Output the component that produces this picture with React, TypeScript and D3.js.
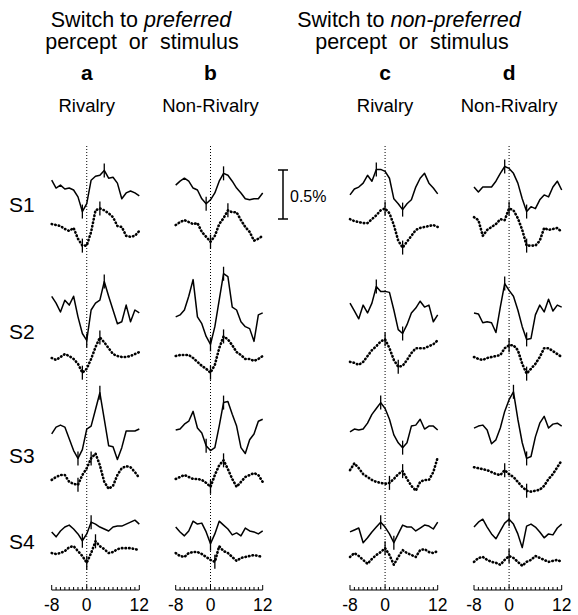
import React from 'react';
import * as d3 from 'd3';

// time (s) relative to the switch
const times = [-8, -7, -6, -5, -4, -3, -2, -1, 0, 1, 2, 3, 4, 5, 6, 7, 8, 9, 10, 11, 12];
const subjects = ['S1', 'S2', 'S3', 'S4'];
const panelLetters = ['a', 'b', 'c', 'd'];
const panelNames = ['Rivalry', 'Non-Rivalry', 'Rivalry', 'Non-Rivalry'];
const axisLabels = [-8, 0, 12];

// % signal change, solid = one trace, dotted = the other
const a_S1_solid = [0.10, 0.02, 0.05, 0.01, 0.02, 0.00, -0.07, -0.22, -0.14, 0.10, 0.14, 0.15, 0.20, 0.12, 0.13, 0.07, -0.09, -0.03, -0.01, -0.03, -0.06];
const a_S1_dotted = [0.03, 0.02, 0.01, -0.02, -0.04, -0.01, -0.12, -0.19, -0.19, -0.05, 0.17, 0.19, 0.17, 0.14, 0.10, 0.01, 0.00, -0.09, -0.10, -0.09, -0.04];
const a_S2_solid = [0.14, 0.07, -0.02, 0.10, 0.05, 0.14, -0.07, -0.24, -0.31, 0.00, 0.07, 0.10, 0.29, 0.14, 0.00, -0.14, -0.12, 0.05, -0.12, 0.00, -0.03];
const a_S2_dotted = [-0.01, -0.03, 0.00, 0.03, 0.01, -0.02, -0.07, -0.16, -0.12, -0.02, 0.10, 0.20, 0.15, 0.09, 0.03, 0.01, 0.00, 0.00, 0.01, 0.03, 0.05];
const a_S3_solid = [-0.03, 0.04, 0.06, 0.04, -0.08, -0.20, -0.28, -0.19, 0.02, 0.05, 0.22, 0.39, 0.12, -0.15, -0.16, -0.29, -0.17, 0.00, 0.00, 0.00, 0.02];
const a_S3_dotted = [-0.03, 0.00, 0.02, 0.02, -0.05, -0.07, -0.08, 0.02, 0.09, 0.19, 0.24, 0.12, -0.05, -0.12, -0.09, 0.02, 0.09, 0.11, 0.10, 0.05, -0.01];
const a_S4_solid = [-0.03, -0.08, -0.02, 0.02, 0.04, 0.00, -0.05, -0.12, -0.05, 0.07, 0.05, 0.02, 0.00, -0.02, 0.02, 0.03, 0.03, 0.05, 0.07, 0.09, 0.05];
const a_S4_dotted = [0.02, 0.01, 0.02, 0.04, 0.08, 0.09, 0.04, -0.01, -0.08, 0.02, 0.14, 0.09, 0.06, 0.02, 0.03, 0.06, 0.07, 0.07, 0.07, 0.06, 0.05];

const b_S1_solid = [0.05, 0.09, 0.12, 0.09, 0.02, 0.00, -0.09, -0.14, -0.10, -0.03, 0.09, 0.17, 0.15, 0.09, 0.02, -0.03, -0.09, -0.10, -0.09, -0.09, -0.03];
const b_S1_dotted = [0.02, 0.05, 0.07, 0.05, 0.03, 0.04, -0.05, -0.10, -0.15, -0.09, 0.03, 0.09, 0.17, 0.15, 0.15, 0.07, 0.00, -0.05, -0.14, -0.12, -0.09];
const b_S2_solid = [-0.07, -0.05, 0.00, 0.14, 0.31, -0.07, -0.14, -0.27, -0.35, -0.17, 0.10, 0.37, 0.34, 0.03, 0.00, -0.12, -0.17, -0.19, -0.32, -0.05, -0.03];
const b_S2_dotted = [0.01, 0.02, 0.02, 0.02, -0.01, -0.05, -0.09, -0.12, -0.16, -0.08, 0.09, 0.21, 0.18, 0.12, 0.05, 0.02, -0.02, -0.02, -0.04, -0.02, 0.01];
const b_S3_solid = [0.01, 0.02, 0.07, 0.10, 0.20, 0.03, -0.02, -0.15, -0.20, -0.17, 0.05, 0.29, 0.30, 0.17, 0.05, -0.17, -0.23, -0.09, -0.03, 0.10, 0.12];
const b_S3_dotted = [-0.02, 0.00, 0.02, 0.00, -0.02, -0.02, -0.03, -0.06, -0.10, 0.02, 0.12, 0.17, 0.08, -0.02, -0.10, -0.05, 0.00, 0.02, 0.04, 0.02, -0.05];
const b_S4_solid = [0.02, -0.03, -0.07, -0.02, 0.08, 0.05, 0.06, -0.03, -0.15, -0.05, 0.08, 0.04, 0.00, -0.06, -0.04, -0.07, 0.01, -0.02, -0.03, -0.05, -0.02];
const b_S4_dotted = [0.02, -0.01, -0.02, 0.02, 0.03, 0.03, 0.01, -0.02, -0.05, -0.07, 0.09, 0.04, 0.02, -0.02, -0.06, -0.03, -0.02, -0.01, 0.00, -0.01, -0.02];

const c_S1_solid = [-0.05, 0.01, 0.03, 0.07, 0.15, 0.09, 0.21, 0.21, 0.19, 0.12, -0.09, -0.14, -0.20, -0.14, -0.10, 0.03, 0.12, 0.17, 0.07, 0.02, -0.04];
const c_S1_dotted = [0.08, 0.06, 0.05, 0.04, 0.04, 0.08, 0.12, 0.17, 0.19, 0.14, 0.02, -0.14, -0.21, -0.15, -0.09, -0.03, -0.01, 0.00, 0.01, 0.02, 0.00];
const c_S2_solid = [0.07, -0.01, -0.09, 0.05, -0.03, 0.07, 0.24, 0.19, 0.19, 0.18, 0.00, -0.20, -0.24, -0.15, -0.03, 0.02, 0.09, 0.03, 0.05, -0.12, -0.05];
const c_S2_dotted = [-0.05, -0.06, -0.08, -0.05, 0.01, 0.07, 0.11, 0.16, 0.18, 0.09, -0.03, -0.10, -0.09, -0.03, 0.04, 0.09, 0.09, 0.09, 0.11, 0.13, 0.17];
const c_S3_solid = [-0.01, 0.02, 0.01, 0.02, 0.08, 0.17, 0.23, 0.29, 0.23, 0.12, -0.04, -0.12, -0.17, -0.12, 0.05, 0.06, 0.12, 0.02, 0.05, 0.05, 0.01];
const c_S3_dotted = [0.07, 0.14, 0.09, 0.03, 0.00, -0.03, -0.05, -0.06, -0.07, -0.06, -0.02, 0.03, 0.06, -0.02, -0.09, -0.14, -0.05, -0.03, -0.03, 0.05, 0.20];
const c_S4_solid = [-0.03, -0.01, 0.01, -0.14, -0.09, -0.03, 0.02, 0.07, 0.02, -0.05, -0.14, -0.05, 0.04, 0.02, 0.02, -0.02, 0.01, 0.04, 0.03, 0.00, 0.07];
const c_S4_dotted = [-0.02, 0.02, -0.01, -0.05, -0.09, -0.04, 0.00, 0.03, 0.07, 0.00, -0.10, -0.02, 0.05, 0.02, 0.00, -0.02, 0.05, 0.06, 0.03, 0.02, 0.04];

const d_S1_solid = [0.03, -0.02, 0.03, 0.03, 0.03, 0.09, 0.17, 0.24, 0.22, 0.17, 0.07, -0.09, -0.22, -0.17, -0.19, -0.10, -0.05, -0.07, 0.03, 0.09, 0.00];
const d_S1_dotted = [0.10, 0.07, -0.09, -0.03, 0.00, 0.03, 0.08, 0.07, 0.19, 0.17, 0.09, -0.03, -0.19, -0.19, -0.19, -0.14, -0.01, -0.03, -0.02, -0.01, -0.05];
const d_S2_solid = [-0.03, -0.04, -0.13, -0.12, -0.13, -0.23, 0.03, 0.27, 0.20, 0.14, 0.00, -0.17, -0.30, -0.29, -0.05, 0.05, -0.02, 0.11, -0.01, 0.05, 0.03];
const d_S2_dotted = [0.00, -0.02, -0.03, -0.01, 0.00, 0.01, 0.02, 0.09, 0.12, 0.12, 0.07, -0.07, -0.17, -0.12, -0.07, 0.00, 0.09, 0.09, 0.06, 0.03, 0.00];
const d_S3_solid = [0.03, 0.05, 0.06, 0.01, -0.13, -0.09, 0.03, 0.20, 0.32, 0.40, 0.12, -0.12, -0.28, -0.26, -0.06, 0.08, 0.15, 0.03, 0.07, 0.08, 0.05];
const d_S3_dotted = [0.10, 0.09, 0.08, 0.07, 0.05, 0.03, 0.02, 0.07, 0.03, 0.00, -0.05, -0.10, -0.14, -0.15, -0.14, -0.13, -0.09, -0.02, 0.03, 0.10, 0.17];
const d_S4_solid = [0.02, 0.07, 0.10, 0.02, -0.05, -0.10, -0.02, 0.06, 0.10, 0.05, -0.05, -0.19, 0.03, 0.05, 0.02, -0.03, -0.09, -0.05, -0.06, 0.01, 0.05];
const d_S4_dotted = [-0.07, -0.03, -0.02, -0.05, -0.07, -0.08, -0.10, -0.05, -0.01, -0.03, -0.07, -0.11, -0.07, -0.05, -0.01, -0.03, -0.05, -0.07, -0.06, -0.05, -0.07];

// times at which the small vertical latency marks sit, per trace
const a_marks = [[-1, 4], [-1, 3], [0, 4], [-1, 3], [-2, 3], [-2, 1], [-1, 1], [0, 2]];
const b_marks = [[-1, 3], [0, 4], [0, 3], [0, 3], [-1, 3], [0, 3], [0], [1]];
const c_marks = [[-2, 4], [0, 4], [-2, 4], [0, 3], [-1, 4], [1, 4], [-1, 2], [0]];
const d_marks = [[-1, 4], [0, 4], [-1, 4], [0, 4], [1, 4], [-1, 4], [0], [0]];

const panelSeries = [
  [a_S1_solid, a_S1_dotted, a_S2_solid, a_S2_dotted, a_S3_solid, a_S3_dotted, a_S4_solid, a_S4_dotted],
  [b_S1_solid, b_S1_dotted, b_S2_solid, b_S2_dotted, b_S3_solid, b_S3_dotted, b_S4_solid, b_S4_dotted],
  [c_S1_solid, c_S1_dotted, c_S2_solid, c_S2_dotted, c_S3_solid, c_S3_dotted, c_S4_solid, c_S4_dotted],
  [d_S1_solid, d_S1_dotted, d_S2_solid, d_S2_dotted, d_S3_solid, d_S3_dotted, d_S4_solid, d_S4_dotted],
];
const panelMarks = [a_marks, b_marks, c_marks, d_marks];

const W = 578;
const H = 615;
const FONT = '"Liberation Sans", Arial, Helvetica, sans-serif';

// layout
const panelRanges: [number, number][] = [[51.7, 139.3], [175.7, 262.7], [350, 437.7], [474, 561.7]];
const solidBase = [190, 310, 431, 529];
const dottedBase = [227, 357, 477, 555];
const labelBase = [212, 339, 463, 549];
const axisY = 590;
const zeroTop = 146;

export default function App() {
  const xs = panelRanges.map(r => d3.scaleLinear().domain([-8, 12]).range(r));
  const dy = d3.scaleLinear().domain([0, 1]).range([0, -98]); // % -> px offset

  const scaleBarX = 283;
  const scaleBarMid = 194.5;

  return (
    <svg width={W} height={H} style={{ position: 'absolute', left: 0, top: 0, background: '#fff' }} fontFamily={FONT}>
      <rect width={W} height={H} fill="#fff" />

      {/* headings */}
      <text x={141} y={27} fontSize={21.5} textAnchor="middle">
        Switch to <tspan fontStyle="italic">preferred</tspan>
      </text>
      <text x={142} y={49} fontSize={21.5} textAnchor="middle" style={{ whiteSpace: 'pre' }}>
        {'percept  or  stimulus'}
      </text>
      <text x={409} y={27} fontSize={21.5} textAnchor="middle">
        Switch to <tspan fontStyle="italic">non-preferred</tspan>
      </text>
      <text x={412} y={49} fontSize={21.5} textAnchor="middle" style={{ whiteSpace: 'pre' }}>
        {'percept  or  stimulus'}
      </text>

      {xs.map((x, p) => (
        <g key={p}>
          <text x={x(0)} y={80} fontSize={21} fontWeight="bold" textAnchor="middle">{panelLetters[p]}</text>
          <text x={x(0)} y={112} fontSize={18.5} textAnchor="middle">{panelNames[p]}</text>

          {/* zero line */}
          <line x1={x(0)} x2={x(0)} y1={zeroTop} y2={axisY} stroke="#000" strokeWidth={1} strokeDasharray="1,2" />

          {/* traces */}
          {panelSeries[p].map((vals, k) => {
            const row = Math.floor(k / 2);
            const dotted = k % 2 === 1;
            const base = dotted ? dottedBase[row] : solidBase[row];
            const line = d3.line<number>()
              .x((_, i) => x(times[i]))
              .y(v => base + dy(v));
            return (
              <g key={k}>
                <path
                  d={line(vals) || ''}
                  fill="none"
                  stroke="#000"
                  strokeWidth={dotted ? 2.6 : 1.5}
                  strokeLinejoin="round"
                  strokeLinecap={dotted ? 'round' : 'butt'}
                  strokeDasharray={dotted ? '0.5,3.1' : undefined}
                />
                {panelMarks[p][k].map(t => {
                  const yy = base + dy(vals[times.indexOf(t)]);
                  return <line key={t} x1={x(t)} x2={x(t)} y1={yy - 7} y2={yy + 7} stroke="#000" strokeWidth={1.3} />;
                })}
              </g>
            );
          })}

          {/* time axis */}
          <line x1={x(-8)} x2={x(12)} y1={axisY} y2={axisY} stroke="#000" strokeWidth={1.2} />
          {x.ticks(20).map(t => (
            <line key={t} x1={x(t)} x2={x(t)} y1={axisY} y2={axisY - (axisLabels.includes(t) ? 5 : 3)} stroke="#000" strokeWidth={1} />
          ))}
          {axisLabels.map(t => (
            <text key={t} x={x(t)} y={611} fontSize={17.5} textAnchor="middle">{t}</text>
          ))}
        </g>
      ))}

      {/* subject labels */}
      {subjects.map((s, i) => (
        <text key={s} x={9} y={labelBase[i]} fontSize={21}>{s}</text>
      ))}

      {/* scale bar */}
      <g stroke="#000" strokeWidth={1.5}>
        <line x1={scaleBarX} x2={scaleBarX} y1={scaleBarMid + dy(0.25)} y2={scaleBarMid + dy(-0.25)} />
        <line x1={scaleBarX - 5} x2={scaleBarX + 5} y1={scaleBarMid + dy(0.25)} y2={scaleBarMid + dy(0.25)} />
        <line x1={scaleBarX - 5} x2={scaleBarX + 5} y1={scaleBarMid + dy(-0.25)} y2={scaleBarMid + dy(-0.25)} />
      </g>
      <text x={290} y={202} fontSize={16}>0.5%</text>
    </svg>
  );
}
